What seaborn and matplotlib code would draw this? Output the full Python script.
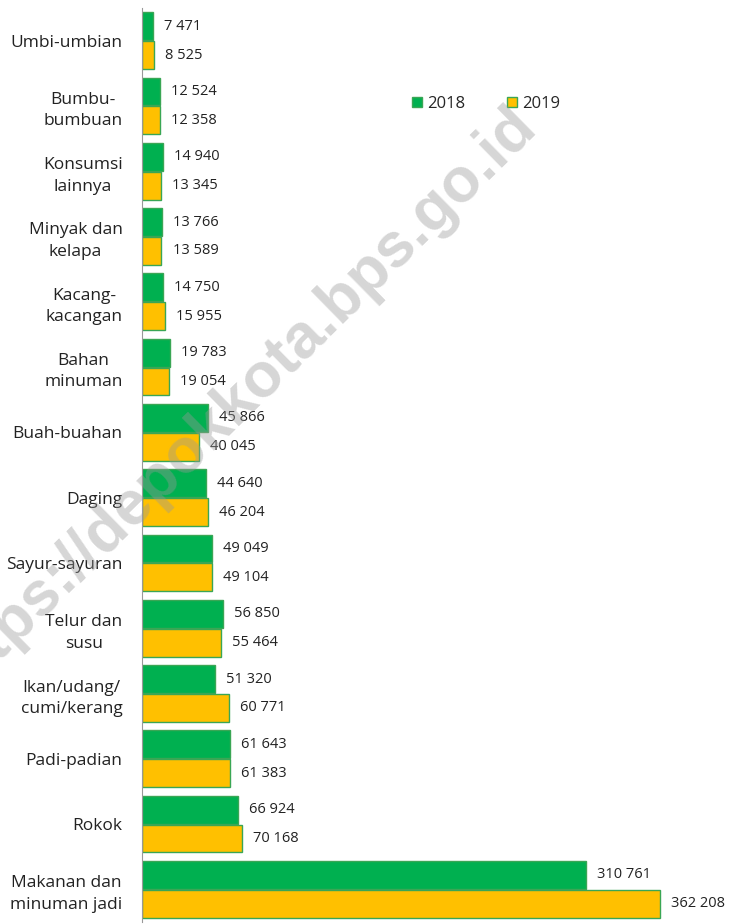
import pandas as pd
import numpy as np
import matplotlib.pyplot as plt
import seaborn as sns

# Categories (top to bottom) and values per year
categories = ['Umbi-umbian', 'Bumbu-\nbumbuan', 'Konsumsi\nlainnya', 'Minyak dan\nkelapa',
              'Kacang-\nkacangan', 'Bahan\nminuman', 'Buah-buahan', 'Daging',
              'Sayur-sayuran', 'Telur dan\nsusu', 'Ikan/udang/\ncumi/kerang', 'Padi-padian',
              'Rokok', 'Makanan dan\nminuman jadi']
val_2018 = [7471, 12524, 14940, 13766, 14750, 19783, 45866, 44640, 49049, 56850, 51320, 61643, 66924, 310761]
val_2019 = [8525, 12358, 13345, 13589, 15955, 19054, 40045, 46204, 49104, 55464, 60771, 61383, 70168, 362208]
years = ['2018', '2019']

df = pd.DataFrame({
    'kategori': categories * 2,
    'nilai': val_2018 + val_2019,
    'tahun': [years[0]] * len(categories) + [years[1]] * len(categories),
})

sns.set_style('white')
plt.rcParams['font.family'] = ['Open Sans', 'DejaVu Sans']

fig = plt.figure(figsize=(7.32, 9.24), dpi=100)
ax = fig.add_axes([142 / 732, 2 / 924, 1 - 142 / 732, 914 / 924])

sns.barplot(data=df, y='kategori', x='nilai', hue='tahun', orient='h',
            palette=['#00B050', '#FFC000'], saturation=1, width=0.88, gap=0.03,
            edgecolor='#3aa655', linewidth=1, ax=ax)

ax.set_xlim(0, 412600)
ax.set_ylim(13.5, -0.5)
ax.set_xlabel('')
ax.set_ylabel('')
ax.set_xticks([])
ax.tick_params(axis='y', which='major', length=0, pad=14, labelsize=12.5)
for lbl in ax.get_yticklabels():
    lbl.set_horizontalalignment('right')
    lbl.set_multialignment('center')
    lbl.set_color('#222222')
    lbl.set_linespacing(1.45)
ax.set_yticks(np.arange(-0.5, 14, 1), minor=True)
ax.tick_params(axis='y', which='minor', length=5, color='#999999', width=1)

sns.despine(ax=ax, top=True, right=True, bottom=True)
ax.spines['left'].set_color('#999999')

def fmt(v):
    return f'{v:,}'.replace(',', ' ')

for cont, vals in zip(ax.containers, [val_2018, val_2019]):
    ax.bar_label(cont, labels=[fmt(v) for v in vals], padding=8, fontsize=10.5, color='#222222')

leg = ax.legend(loc='center left', bbox_to_anchor=(0.432, 0.895), ncol=2, frameon=False,
                fontsize=12, handlelength=0.6, handleheight=0.6, columnspacing=2.5,
                handletextpad=0.3)

fig.text(0.321, 0.564, 'https://depokkota.bps.go.id', fontsize=45, fontweight='bold',
         family='Liberation Sans', color='#999999', alpha=0.4, rotation=44.5,
         ha='center', va='center', rotation_mode='anchor', zorder=10)

fig.savefig('out.png', dpi=100)
